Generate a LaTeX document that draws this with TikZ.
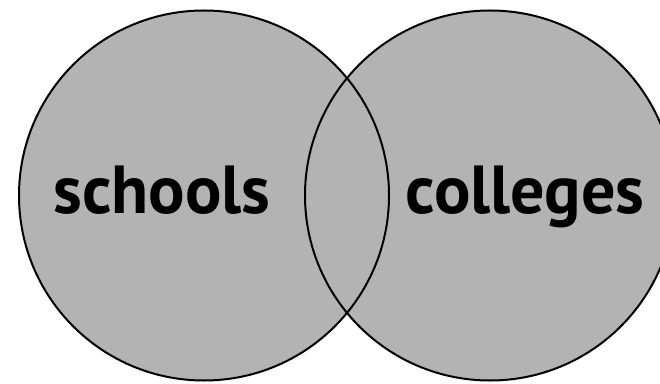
\documentclass[tikz,border=0pt]{standalone}
\usepackage{fontspec}
\setmainfont{PT Sans}
\definecolor{vennfill}{HTML}{B3B3B3}
\begin{document}
\begin{tikzpicture}[x=1pt,y=1pt,
  vennset/.style={fill=vennfill},
  vennline/.style={draw=black,line width=2pt},
  vennlabel/.style={font=\bfseries\fontsize{68}{72}\selectfont,anchor=base,inner sep=0pt}]
\useasboundingbox (0,0) rectangle (660,383);
\clip (0,0) rectangle (660,383);
\coordinate (cl) at (204,187.5);
\coordinate (cr) at (490,187.5);
\fill[vennset] (cl) circle (185);
\fill[vennset] (cr) circle (185);
\draw[vennline] (cl) circle (185);
\draw[vennline] (cr) circle (185);
\node[vennlabel] (schools) at (162,169) {schools};
\node[vennlabel] (colleges) at (525,169) {colleges};
\end{tikzpicture}
\end{document}
